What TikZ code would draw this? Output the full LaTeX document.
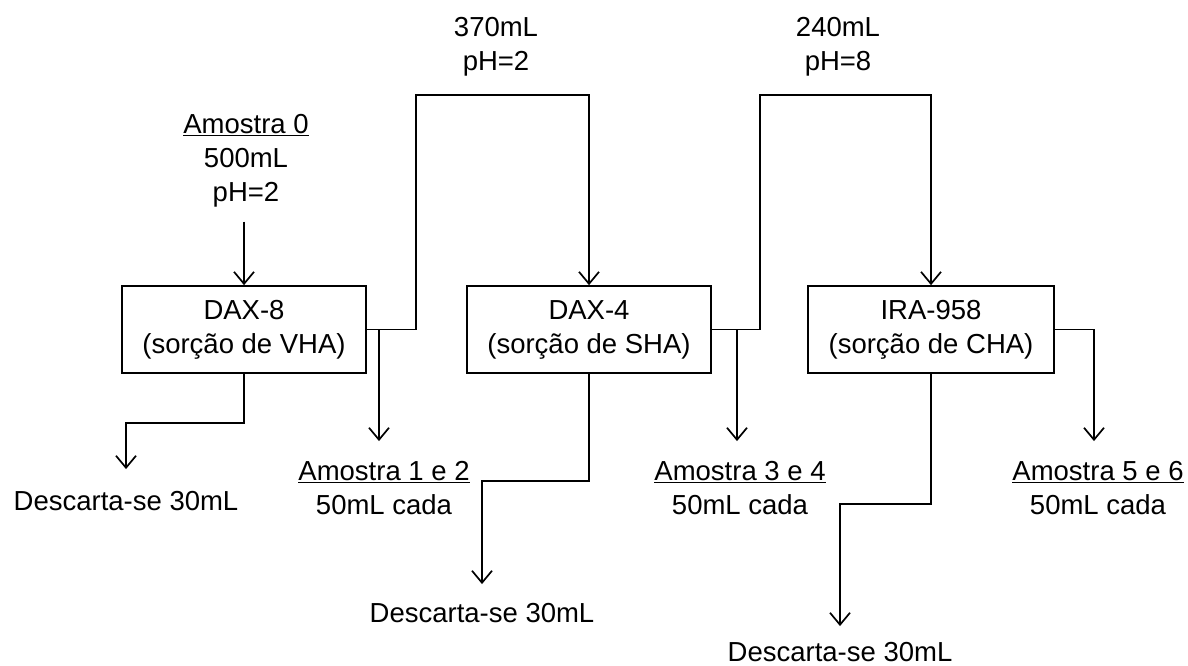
\documentclass[tikz,border=0pt]{standalone}
\usepackage{fontspec}
\setmainfont{Liberation Sans}
\usetikzlibrary{arrows.meta}
\begin{document}
\begin{tikzpicture}[x=1pt,y=-1pt,
  every node/.style={font=\fontsize{27.5}{34}\selectfont, inner sep=2pt, align=center},
  stage/.style={draw, line width=1.7pt, minimum width=244pt, minimum height=87pt},
  arr/.style={line width=1.7pt, -{Straight Barb[length=12pt,width=20pt]}}]
\useasboundingbox (0,0) rectangle (1188,666);
% labels
\node (a0) at (246,161) {\underline{Amostra 0}\\500mL\\pH=2};
\node (l1) at (496,47) {370mL\\pH=2};
\node (l2) at (838,47) {240mL\\pH=8};
% boxes
\node[stage] (box1) at (244,329.5) {DAX-8\\(sorção de VHA)};
\node[stage] (box2) at (589,329.5) {DAX-4\\(sorção de SHA)};
\node[stage, minimum width=246pt] (box3) at (931,329.5) {IRA-958\\(sorção de CHA)};
% outputs
\node (a12) at (384,488) {\underline{Amostra 1 e 2}\\50mL cada};
\node (a34) at (740,488) {\underline{Amostra 3 e 4}\\50mL cada};
\node (a56) at (1098,488) {\underline{Amostra 5 e 6}\\50mL cada};
\node (d1) at (126,501) {Descarta-se 30mL};
\node (d2) at (482,613) {Descarta-se 30mL};
\node (d3) at (840,652) {Descarta-se 30mL};
% coordinates
\coordinate (t1) at (416,95);
\coordinate (t2) at (760,95);
\coordinate (b1) at (379,329.5);
\coordinate (b2) at (737,329.5);
\coordinate (b3) at (1094,329.5);
% connectors
\draw[arr] ([yshift=-12pt]a0.south -| box1.north) -- (box1.north);
\draw[arr] (box1.east) -| (t1) -| (box2.north);
\draw[arr] (box2.east) -| (t2) -| (box3.north);
\draw[arr, shorten >=18pt] (b1) -- (b1 |- a12.north);
\draw[arr, shorten >=18pt] (b2) -- (b2 |- a34.north);
\draw[arr, shorten >=18pt] (box3.east) -| (b3 |- a56.north);
\draw[arr, shorten >=20pt] (box1.south) -- ++(0,49) -| (d1.north);
\draw[arr, shorten >=17pt] (box2.south) -- ++(0,107) -| (d2.north);
\draw[arr, shorten >=14pt] (box3.south) -- ++(0,130) -| (d3.north);
\end{tikzpicture}
\end{document}
